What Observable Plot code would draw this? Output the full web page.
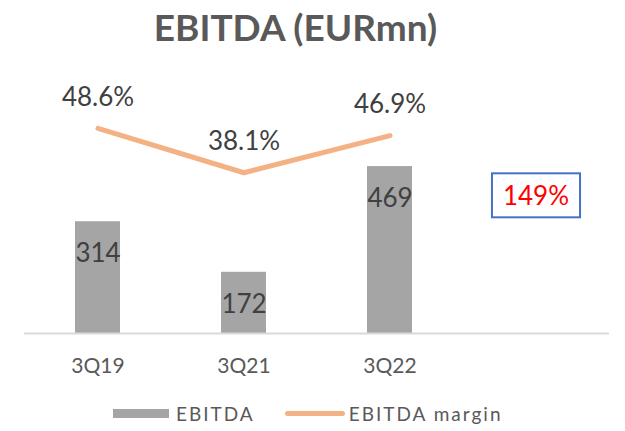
<!DOCTYPE html>
<html>
<head>
<meta charset="utf-8">
<script src="https://cdn.jsdelivr.net/npm/d3@7"></script>
<script src="https://cdn.jsdelivr.net/npm/@observablehq/plot@0.6"></script>
<style>
  html, body { margin: 0; padding: 0; background: #fff; }
  body { width: 625px; height: 431px; overflow: hidden; font-family: Lato, "Open Sans", sans-serif; }
  #title { width: 591px; height: 60px; line-height: 54px; text-align: center; font-weight: bold; font-size: 37px; color: #595959; }
  #chart svg { display: block; }
  #legend { position: relative; height: 36px; display: flex; align-items: center; padding-left: 113px; font-size: 19px; color: #595959; letter-spacing: 2px; }
  .sw-bar { width: 56px; height: 9px; background: #A5A5A5; margin-right: 7px; }
  .sw-line { width: 60px; height: 5px; border-radius: 3px; background: #F4B183; margin-left: 30px; margin-right: 4px; }
</style>
</head>
<body>
<div id="title">EBITDA (EURmn)</div>
<div id="chart"></div>
<div id="legend"><span class="sw-bar"></span><span>EBITDA</span><span class="sw-line"></span><span>EBITDA margin</span></div>
<script>
const categories = ["3Q19", "3Q21", "3Q22"];
const ebitda = [314, 172, 469];
const marginPct = [48.6, 38.1, 46.9];
const marginLabels = ["48.6%", "38.1%", "46.9%"];
const growthLabel = ["149%"];
const emptySlot = " ";
const yMax = 767;     // primary axis max (EURmn)
const y2Max = 64.7;   // secondary axis max (%)

const rows = categories.map((c, i) => ({ cat: c, ebitda: ebitda[i], margin: marginPct[i], mlabel: marginLabels[i] }));
const toPrimary = d => d.margin * yMax / y2Max;

const chart = Plot.plot({
  width: 625,
  height: 335,
  marginTop: 0,
  marginBottom: 62,
  marginLeft: 24,
  marginRight: 16,
  style: { fontFamily: "Lato, 'Open Sans', sans-serif", background: "white", overflow: "visible" },
  x: { domain: [...categories, emptySlot], paddingInner: 0.69, paddingOuter: 0.345, label: null },
  y: { domain: [0, yMax], axis: null },
  marks: [
    Plot.barY(rows, { x: "cat", y: "ebitda", fill: "#A5A5A5" }),
    Plot.ruleY([0], { stroke: "#D9D9D9", strokeWidth: 2 }),
    Plot.axisX({ tickSize: 0, tickPadding: 25, fontSize: 21, fill: "#595959" }),
    Plot.text(rows, { x: "cat", y: "ebitda", text: d => String(d.ebitda), dy: 32, fontSize: 26, fill: "#404040" }),
    Plot.line(rows, { x: "cat", y: toPrimary, stroke: "#F4B183", strokeWidth: 5 }),
    Plot.text(rows, { x: "cat", y: toPrimary, text: "mlabel", dy: -31, fontSize: 26, fill: "#404040" }),
    Plot.text(growthLabel, { x: () => emptySlot, frameAnchor: "middle", text: d => d, fontSize: 26, fill: "#FF0000", className: "growth" })
  ]
});
document.getElementById("chart").appendChild(chart);

// draw the blue box around the growth annotation from its own bounding box
chart.querySelectorAll(".growth text").forEach(t => {
  const b = t.getBBox();
  const padX = 11, padY = 6;
  const r = document.createElementNS("http://www.w3.org/2000/svg", "rect");
  r.setAttribute("x", b.x - padX);
  r.setAttribute("y", b.y - padY);
  r.setAttribute("width", b.width + 2 * padX);
  r.setAttribute("height", b.height + 2 * padY);
  r.setAttribute("fill", "none");
  r.setAttribute("stroke", "#4472C4");
  r.setAttribute("stroke-width", 2);
  if (t.getAttribute("transform")) r.setAttribute("transform", t.getAttribute("transform"));
  t.parentNode.insertBefore(r, t);
});
</script>
</body>
</html>
